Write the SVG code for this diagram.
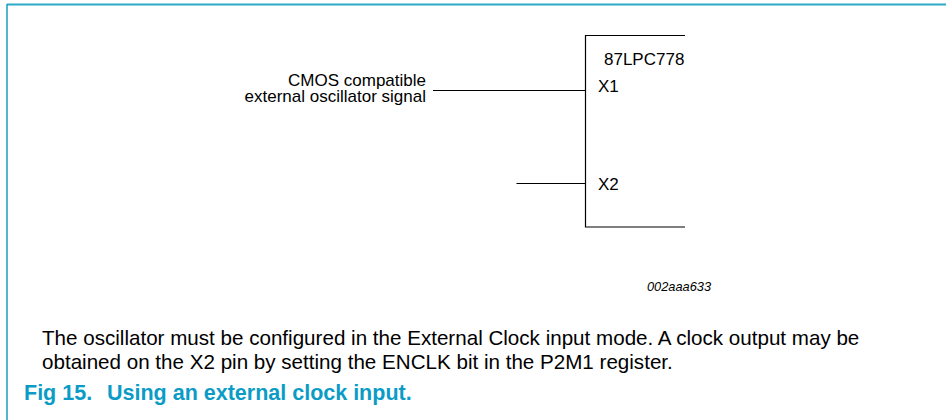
<svg xmlns="http://www.w3.org/2000/svg" width="946" height="420" viewBox="0 0 946 420">
<style>
.t{font-family:"Liberation Sans",Arial,sans-serif;fill:#000}
.w{stroke:#000;stroke-width:1.2;fill:none}
.cap{font-family:"Liberation Sans",Arial,sans-serif;font-weight:bold;fill:#0a9cc6}
</style>
<rect width="946" height="420" fill="#fff"/>
<g id="frame">
<line x1="7" y1="4.5" x2="946" y2="4.5" stroke="#2aa9c6" stroke-width="2"/>
<line x1="7" y1="4" x2="7" y2="420" stroke="#1a9cc0" stroke-width="1.5"/>
</g>
<g id="chip">
<path class="w" d="M685,35.5 H585.5 V227 H685"/>
<text class="t" x="604" y="65" font-size="17">87LPC778</text>
<text class="t" x="598" y="92" font-size="17">X1</text>
<text class="t" x="598" y="189.5" font-size="17">X2</text>
</g>
<g id="source">
<text class="t" x="426" y="85.5" font-size="17" text-anchor="end">CMOS compatible</text>
<text class="t" x="426" y="101.5" font-size="17" text-anchor="end">external oscillator signal</text>
</g>
<g id="connectors">
<line class="w" x1="433" y1="90.5" x2="585.5" y2="90.5"/>
<line class="w" x1="516.5" y1="183.5" x2="585.5" y2="183.5"/>
</g>
<text class="t" x="647" y="291" font-size="12.8" font-style="italic">002aaa633</text>
<text class="t" x="42" y="345" font-size="20.6">The oscillator must be configured in the External Clock input mode. A clock output may be</text>
<text class="t" x="42" y="369" font-size="20.6">obtained on the X2 pin by setting the ENCLK bit in the P2M1 register.</text>
<text class="cap" x="24" y="400" font-size="21.5">Fig 15.<tspan x="107">Using an external clock input.</tspan></text>
</svg>
